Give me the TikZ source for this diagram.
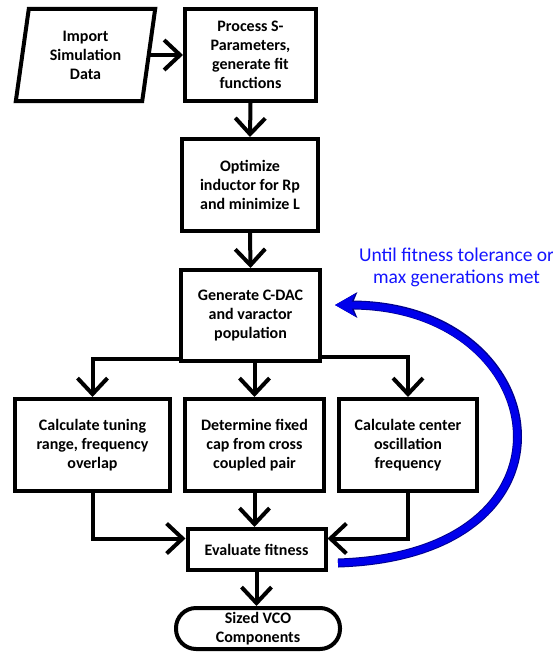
\documentclass[tikz,border=0pt]{standalone}
\usepackage{fontspec}
\setmainfont{Carlito}
\usetikzlibrary{arrows.meta,calc}
\begin{document}
\begin{tikzpicture}[x=1pt,y=-1pt,
  txt/.style={align=center,font=\bfseries\fontsize{16}{19}\selectfont,inner sep=1pt},
  box/.style={txt,draw,line width=4pt,rectangle},
  flow/.style={line width=4pt,line join=miter,-{Straight Barb[length=16pt,width=30pt]}},
  loopback/.style={draw={rgb,255:red,0;green,0;blue,235},line width=7pt,
     -{Stealth[length=20pt,width=22pt,inset=5pt]},
     preaction={draw={rgb,255:red,0;green,0;blue,140},line width=9pt,-{Stealth[length=22pt,width=25pt,inset=5pt]}}},
  note/.style={align=center,text={rgb,255:red,20;green,20;blue,255},font=\fontsize{19.5}{22}\selectfont}]
\useasboundingbox (0,0) rectangle (553,653);
% nodes
\node[txt,minimum width=126pt,minimum height=92pt] (imp) at (85.5,55) {Import\\Simulation\\Data};
\draw[line width=4pt,line join=miter] ($(imp.north west)+(6.5,0)$) -- ($(imp.north east)+(6.5,0)$)
  -- ($(imp.south east)+(-6.5,0)$) -- ($(imp.south west)+(-6.5,0)$) -- cycle;
\node[box,minimum width=131pt,minimum height=92pt] (proc) at (250.5,55) {Process S-\\Parameters,\\generate fit\\functions};
\node[box,minimum width=136pt,minimum height=92pt] (opt) at (250,185) {Optimize\\inductor for Rp\\and minimize L};
\node[box,minimum width=139pt,minimum height=91pt] (gen) at (250.5,315.5) {Generate C-DAC\\and varactor\\population};
\node[box,minimum width=155pt,minimum height=92pt] (left) at (92.5,445) {Calculate tuning\\range, frequency\\overlap};
\node[box,minimum width=139pt,minimum height=92pt] (mid) at (254.5,445) {Determine fixed\\cap from cross\\coupled pair};
\node[box,minimum width=138pt,minimum height=92pt] (right) at (408,445) {Calculate center\\oscillation\\frequency};
\node[box,minimum width=138pt,minimum height=41pt] (eval) at (256.5,549.5) {Evaluate fitness};
\node[box,rounded corners=20pt,minimum width=164pt,minimum height=41pt] (sized) at (258,628.5) {Sized VCO\\Components};
\node[note] (lbl) at (456.5,267) {Until fitness tolerance or\\max generations met};
% connectors
\draw[flow] (imp.east) -- (proc.west);
\draw[flow] (proc.south) -- (opt.north);
\draw[flow] (opt.south) -- (gen.north);
\draw[flow] ([yshift=4pt]gen.south west) -| (left.north);
\draw[flow] ([yshift=6pt]gen.south east) -| (right.north);
\draw[flow] (mid.north |- gen.south) -- (mid.north);
\draw[flow] (left.south) |- ([yshift=11pt]eval.west);
\draw[flow] (right.south) |- ([yshift=11pt]eval.east);
\draw[flow] (mid.south) -- (mid.south |- eval.north);
\draw[flow] (eval.south) -- (eval.south |- sized.north);
% loop back
\coordinate (fbstart) at (338,563);
\coordinate (fbend) at (335,305);
\draw[loopback] (fbstart) .. controls (595,555) and (555,305) .. (fbend);
\end{tikzpicture}
\end{document}
